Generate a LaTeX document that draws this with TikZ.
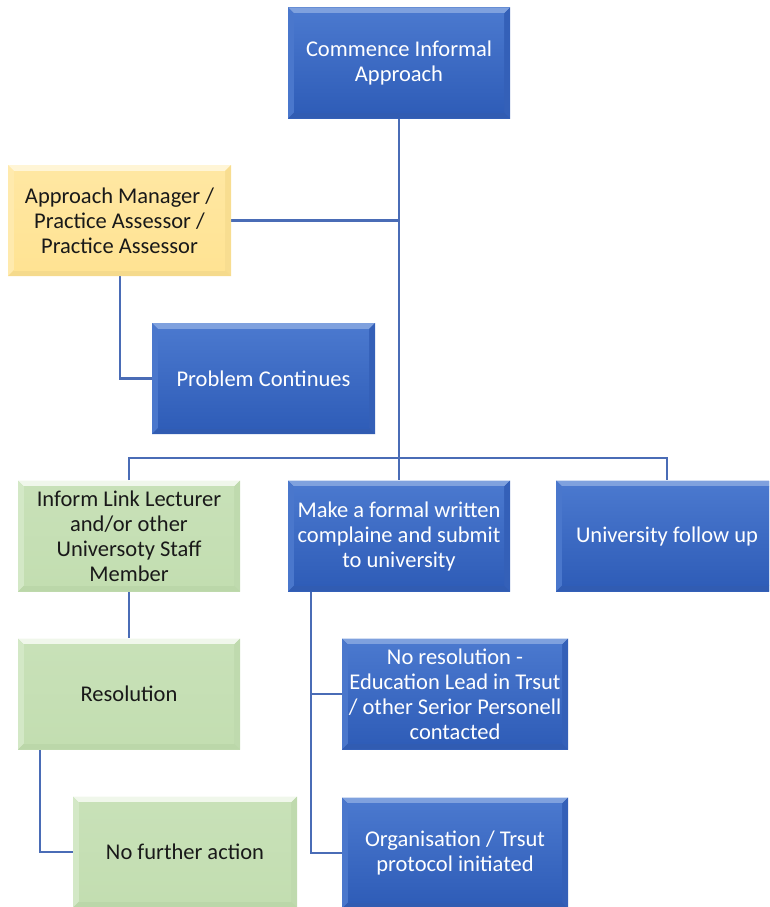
\documentclass[tikz,border=0pt]{standalone}
\usepackage{fontspec}
\setmainfont{Carlito}
\usetikzlibrary{backgrounds}

% Palette
\definecolor{blueBase}{HTML}{3A69C4}
\definecolor{blueTop}{HTML}{7FA1DE}
\definecolor{blueLeft}{HTML}{4A77CC}
\definecolor{blueRight}{HTML}{3460B8}
\definecolor{blueBot}{HTML}{315CB2}
\definecolor{blueIn1}{HTML}{4A78CE}
\definecolor{blueIn2}{HTML}{2F5DB8}

\definecolor{greenBase}{HTML}{C5DFB4}
\definecolor{greenTop}{HTML}{F0F7EB}
\definecolor{greenLeft}{HTML}{D3E8C6}
\definecolor{greenRight}{HTML}{BFDAAE}
\definecolor{greenBot}{HTML}{BBD7A9}
\definecolor{greenIn1}{HTML}{C8E1B8}
\definecolor{greenIn2}{HTML}{C3DEB1}

\definecolor{yelBase}{HTML}{FFE599}
\definecolor{yelTop}{HTML}{FFF5D6}
\definecolor{yelLeft}{HTML}{FFEAAD}
\definecolor{yelRight}{HTML}{F8DD90}
\definecolor{yelBot}{HTML}{F5DA8C}
\definecolor{yelIn1}{HTML}{FFE7A2}
\definecolor{yelIn2}{HTML}{FFE393}

\definecolor{wire}{HTML}{4A6CB6}

\newcommand{\bv}{6pt}

\tikzset{
  x=1pt, y=-1pt,
  bevel/.style n args={7}{
    rectangle, inner sep=0pt, fill=#1, align=center,
    font=\fontsize{22.5}{25}\selectfont,
    minimum width=222pt, minimum height=111pt,
    path picture={
      % top face
      \fill[#2] (path picture bounding box.north west) -- (path picture bounding box.north east)
        -- ([xshift=-\bv,yshift=-\bv]path picture bounding box.north east)
        -- ([xshift=\bv,yshift=-\bv]path picture bounding box.north west) -- cycle;
      % left face
      \fill[#3] (path picture bounding box.north west) -- ([xshift=\bv,yshift=-\bv]path picture bounding box.north west)
        -- ([xshift=\bv,yshift=\bv]path picture bounding box.south west)
        -- (path picture bounding box.south west) -- cycle;
      % right face
      \fill[#4] (path picture bounding box.north east) -- ([xshift=-\bv,yshift=-\bv]path picture bounding box.north east)
        -- ([xshift=-\bv,yshift=\bv]path picture bounding box.south east)
        -- (path picture bounding box.south east) -- cycle;
      % bottom face
      \fill[#5] (path picture bounding box.south west) -- (path picture bounding box.south east)
        -- ([xshift=-\bv,yshift=\bv]path picture bounding box.south east)
        -- ([xshift=\bv,yshift=\bv]path picture bounding box.south west) -- cycle;
      % inner plate
      \shade[top color=#6, bottom color=#7]
        ([xshift=\bv,yshift=-\bv]path picture bounding box.north west) rectangle
        ([xshift=-\bv,yshift=\bv]path picture bounding box.south east);
    }
  },
  bluebox/.style={bevel={blueBase}{blueTop}{blueLeft}{blueRight}{blueBot}{blueIn1}{blueIn2}, text=white},
  greenbox/.style={bevel={greenBase}{greenTop}{greenLeft}{greenRight}{greenBot}{greenIn1}{greenIn2}, text=black!90},
  yellowbox/.style={bevel={yelBase}{yelTop}{yelLeft}{yelRight}{yelBot}{yelIn1}{yelIn2}, text=black!90},
  conn/.style={draw=wire, line width=2.2pt}
}

\begin{document}
\begin{tikzpicture}
\useasboundingbox (0,0) rectangle (769,907);
\clip (0,0) rectangle (769,907);

% Boxes
\node[bluebox]   (start)   at (399,63)    {Commence Informal\\Approach};
\node[yellowbox, minimum width=223pt] (approach) at (119.5,220.5) {Approach Manager /\\Practice Assessor /\\Practice Assessor};
\node[bluebox, minimum width=223pt]   (problem)  at (263.5,378.5) {Problem Continues};
\node[greenbox]  (inform)  at (129,536)   {Inform Link Lecturer\\and/or other\\Universoty Staff\\Member};
\node[bluebox]   (formal)  at (399,536)   {Make a formal written\\complaine and submit\\to university};
\node[bluebox]   (univ)    at (667,536)   {University follow up};
\node[greenbox]  (resol)   at (129,694)   {Resolution};
\node[bluebox, minimum width=226pt] (nores) at (455,694) {No resolution -\\Education Lead in Trsut\\/ other Serior Personell\\contacted};
\node[greenbox, minimum width=224pt] (nofurther) at (185,852) {No further action};
\node[bluebox, minimum width=226pt]  (org) at (455,853) {Organisation / Trsut\\protocol initiated};

% Connectors
\begin{scope}[on background layer]
  \coordinate (bus) at (399,458);
  \draw[conn] (start.south) -- (formal.north);
  \draw[conn] (approach.east) -- (approach.east -| start.south);
  \draw[conn] ([xshift=0.5pt]approach.south) |- (problem.west);
  \draw[conn] (inform.north) -- (inform.north |- bus) -- (univ.north |- bus) -- (univ.north);
  \draw[conn] (inform.south) -- (resol.north);
  \draw[conn] ([xshift=22pt]resol.south west) |- (nofurther.west);
  \draw[conn] ([xshift=23pt]formal.south west) |- (nores.west);
  \draw[conn] ([xshift=23pt]formal.south west) |- (org.west);
\end{scope}
\end{tikzpicture}
\end{document}
